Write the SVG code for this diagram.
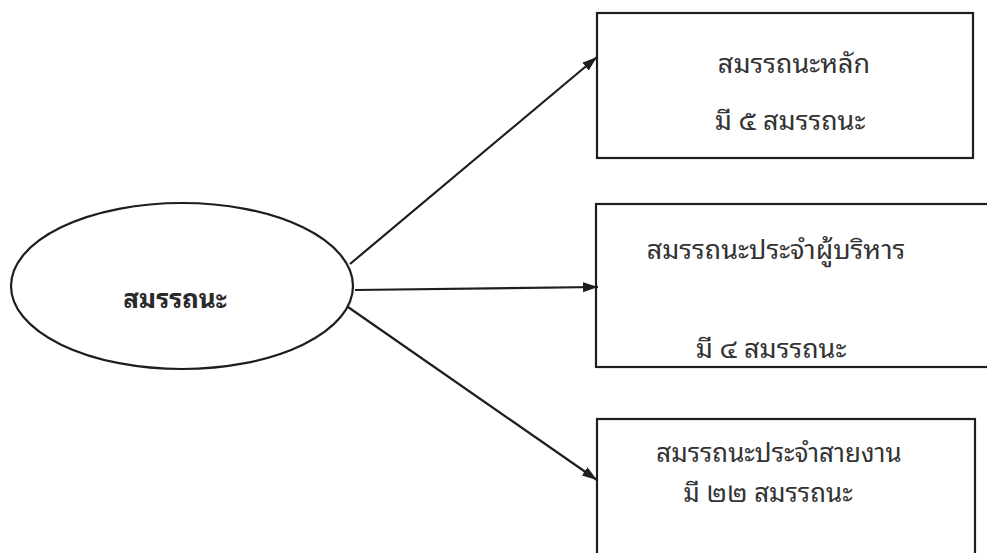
<svg xmlns="http://www.w3.org/2000/svg" width="987" height="553" viewBox="0 0 987 553">
<style>
.shape{fill:#fff;stroke:#1e1e1e;stroke-width:2.2}
.t{font-family:"Noto Sans Thai Looped","Noto Serif Thai","Noto Sans Thai","Noto Sans",sans-serif;font-size:27px;font-weight:normal;fill:#333;text-anchor:middle}
.s{font-size:26px}
.b{font-size:26px;font-weight:bold;fill:#2a2a2a}
.c{stroke:#1e1e1e;stroke-width:2.2;fill:none}
</style>
<defs>
<marker id="ah" markerWidth="16" markerHeight="12" refX="15" refY="6" orient="auto" markerUnits="userSpaceOnUse">
<path d="M0,1 L15,6 L0,11 Z" fill="#1e1e1e"/>
</marker>
</defs>
<rect width="987" height="553" fill="#fff"/>
<g id="center">
<ellipse class="shape" cx="182" cy="286" rx="171" ry="83"/>
<text class="t b" x="175" y="308">สมรรถนะ</text>
</g>
<g id="box1">
<rect class="shape" x="597" y="13" width="376" height="145"/>
<text class="t" x="794" y="73">สมรรถนะหลัก</text>
<text class="t" x="790" y="130">มี ๕ สมรรถนะ</text>
</g>
<g id="box2">
<rect class="shape" x="596" y="204" width="400" height="163"/>
<text class="t" x="776" y="259">สมรรถนะประจำผู้บริหาร</text>
<text class="t" x="771" y="358">มี ๔ สมรรถนะ</text>
</g>
<g id="box3">
<rect class="shape" x="597" y="419" width="378" height="150"/>
<text class="t s" x="779" y="462">สมรรถนะประจำสายงาน</text>
<text class="t s" x="768" y="502">มี ๒๒ สมรรถนะ</text>
</g>
<g id="connectors">
<line class="c" x1="350" y1="264" x2="597" y2="57" marker-end="url(#ah)"/>
<line class="c" x1="355" y1="290" x2="598" y2="287" marker-end="url(#ah)"/>
<line class="c" x1="348" y1="307" x2="597" y2="480" marker-end="url(#ah)"/>
</g>
</svg>
